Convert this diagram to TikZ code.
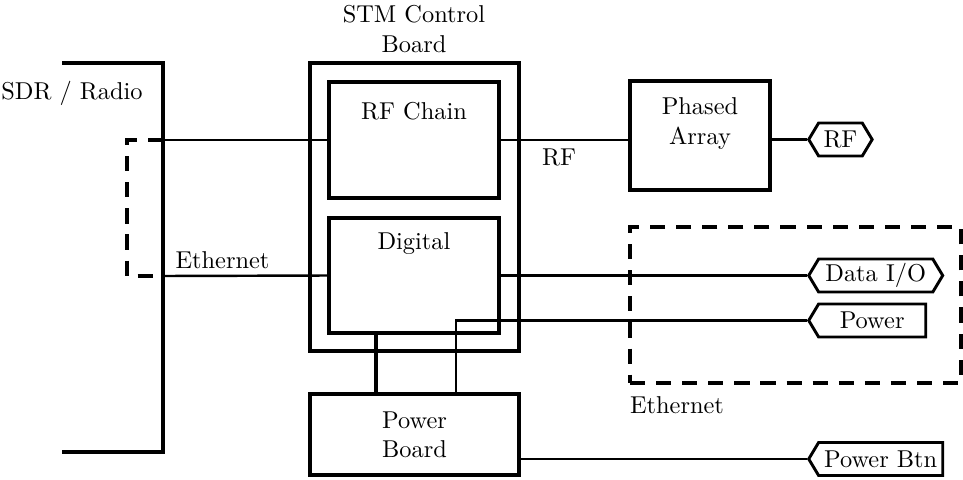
\documentclass[tikz,border=0pt]{standalone}
\usetikzlibrary{shapes.symbols}

\def\pxu{0.41pt}
\tikzset{
  wire/.style={line width=1pt},
  bus/.style={line width=1.6pt},
  grouping/.style={line width=1.6pt, dash pattern=on 6.2pt off 4.5pt},
}

\begin{document}
\begin{tikzpicture}[x=\pxu, y=-\pxu]
\useasboundingbox (0,0) rectangle (963,479);

% boards and blocks
\begin{scope}[every node/.style={rectangle,draw,line width=1.6pt}]
    \node[minimum width=209*\pxu, minimum height=288*\pxu] (stm) at (414.5,207) {};
    \node[minimum width=170*\pxu, minimum height=116*\pxu] (rfchain) at (414,140) {};
    \node[minimum width=170*\pxu, minimum height=115*\pxu] (digital) at (414,275.5) {};
    \node[minimum width=209*\pxu, minimum height=81*\pxu, align=center] (pwrboard) at (414.5,434.5) {Power\\Board};
    \node[minimum width=140*\pxu, minimum height=109*\pxu] (phased) at (700,135.5) {};
    \node[grouping, minimum width=331*\pxu, minimum height=156*\pxu] (ethbox) at (795.5,305) {};
\end{scope}

% connectors on the right
\begin{scope}[every node/.style={signal,draw,line width=1.2pt,signal pointer angle=118,
              minimum height=33*\pxu,inner xsep=2pt,inner ysep=0pt,anchor=west}]
    \node[signal to=west and east, minimum width=62*\pxu] (rf) at (807,139.5) {RF};
    \node[signal to=west and east, minimum width=134*\pxu] (dataio) at (807,275.5) {Data I/O};
    \node[signal to=west, minimum width=117*\pxu] (pwr) at (807,320.5) {Power};
    \node[signal to=west, minimum width=134*\pxu] (pbtn) at (807,459) {Power Btn};
\end{scope}

% texts
\node (sdr) at (72,93) {SDR / Radio};
\node[align=center] (stmtitle) at (414,29) {STM Control\\Board};
\node (rftitle) at (414,111) {RF Chain};
\node (digtitle) at (414,244) {Digital};
\node[align=center] (phtitle) at (700,123.5) {Phased\\Array};
\node (rflabel) at (559,157) {RF};
\node (ethleft) at (222.5,260.5) {Ethernet};
\node (ethright) at (677,405) {Ethernet};

% SDR / radio side
\coordinate (sdrrf) at (163,140);
\coordinate (sdreth) at (163,276);
\draw[bus] (62,63) -- (163,63) -- (163,452) -- (62,452);
\draw[grouping] (sdrrf) -- (127,140) -- (127,276) -- (sdreth);

% wiring
\coordinate (busx) at (376,0);
\coordinate (pwrx) at (456,0);
\draw[wire] (sdrrf) -- (rfchain.west);
\draw[wire] (sdreth) -- (digital.west);
\draw[wire] (rfchain.east) -- (phased.west |- rfchain.east);
\draw[wire] (phased.east |- rf.west) -- (rf.west);
\draw[wire] (digital.east) -- (dataio.west);
\draw[bus] (digital.south -| busx) -- (pwrboard.north -| busx);
\draw[wire] (pwrboard.north -| pwrx) |- (pwr.west);
\draw[wire] (pwrboard.east |- pbtn.west) -- (pbtn.west);
\end{tikzpicture}
\end{document}
